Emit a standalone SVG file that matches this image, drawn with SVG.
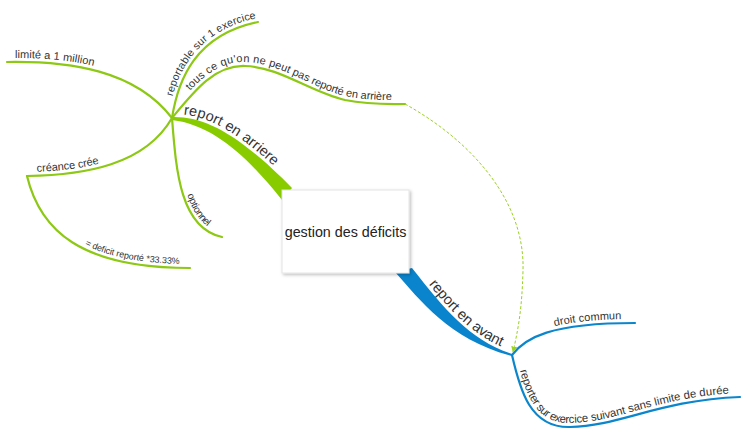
<svg xmlns="http://www.w3.org/2000/svg" xmlns:xlink="http://www.w3.org/1999/xlink" width="750" height="437" viewBox="0 0 750 437">
<style>
  .g { fill: none; stroke: #8cc814; stroke-width: 2.2; stroke-linecap: round; }
  .b { fill: none; stroke: #0b86cc; stroke-width: 2.2; stroke-linecap: round; }
  .t { font-family: "Liberation Sans", Arial, sans-serif; fill: #333; font-size: 11px; }
  .big { font-size: 14.5px; }
  .small { font-size: 9px; }
  .opt { font-size: 10px; }
  .rep { font-size: 10.6px; }
  .long { font-size: 11.3px; }
  .center { font-size: 14.3px; fill: #222; }
</style>
<defs>
  <marker id="arr" viewBox="0 0 10 10" refX="9" refY="5" markerWidth="6" markerHeight="6" orient="auto" markerUnits="userSpaceOnUse">
    <path d="M0,0 L10,5 L0,10 Z" fill="#9ad21e"/>
  </marker>
  <filter id="sh" x="-10%" y="-10%" width="130%" height="130%">
    <feDropShadow dx="1.5" dy="1.5" stdDeviation="1.5" flood-color="#000" flood-opacity="0.25"/>
  </filter>
  <path id="pTopG" d="M172,117 C 205,116 240,135 292,188"/>
  <path id="pTopB" d="M412,268 C 445,310 470,340 512,354"/>
  <path id="pLim" d="M7,62 C 70,61 135,70 172,118"/>
  <path id="pRep" d="M172,118 C 178,80 195,35 258,22"/>
  <path id="pRepText" d="M172,118 C 178,80 195,35 258,22 L 280,19"/>
  <path id="pTous" d="M172,118 C 195,90 215,65 245,66 C 280,67 310,92 345,100 C 370,105 390,104 405,104"/>
  <path id="pCre" d="M27,176 C 85,175 145,165 172,118"/>
  <path id="pDef" d="M27,176 C 40,230 80,268 190,268"/>
  <path id="pOpt" d="M172,118 C 176,170 180,228 222,237"/>
  <path id="pDroit" d="M512,355 C 525,338 550,323 635,323"/>
  <path id="pRepA" d="M512,355 C 520,390 530,428 570,427 C 620,426 660,400 740,397"/>
</defs>

<g id="connectors">
  <path id="branch-arriere" d="M172,117 C 205,116 240,135 292,188 L 282,200 C 250,160 215,125 172,120 Z" fill="#88cc00"/>
  <path id="branch-avant" d="M395,272 C 420,300 450,340 512,356 L 512,354 C 470,340 445,310 412,268 Z" fill="#0a84cc"/>
  <use xlink:href="#pLim" class="g"/>
  <use xlink:href="#pRep" class="g"/>
  <use xlink:href="#pTous" class="g"/>
  <use xlink:href="#pCre" class="g"/>
  <use xlink:href="#pDef" class="g"/>
  <use xlink:href="#pOpt" class="g"/>
  <use xlink:href="#pDroit" class="b"/>
  <use xlink:href="#pRepA" class="b"/>
  <path id="relation" d="M405,104 C 470,140 525,200 523,270 C 522,310 518,330 513,352" fill="none" stroke="#9ad21e" stroke-width="1" stroke-dasharray="3,2" marker-end="url(#arr)"/>
</g>

<g id="node-report-arriere">
  <text class="t big" dy="-3"><textPath xlink:href="#pTopG" startOffset="11">report en arriere</textPath></text>
</g>
<g id="node-report-avant">
  <text class="t big" dy="-3"><textPath xlink:href="#pTopB" startOffset="23">report en avant</textPath></text>
</g>
<g id="node-limite">
  <text class="t" dy="-4"><textPath xlink:href="#pLim" startOffset="8">limité a 1 million</textPath></text>
</g>
<g id="node-reportable">
  <text class="t rep" dy="-4"><textPath xlink:href="#pRepText" startOffset="21">reportable sur 1 exercice</textPath></text>
</g>
<g id="node-tous">
  <text class="t" dy="-4"><textPath xlink:href="#pTous" startOffset="32">tous ce qu'on ne peut pas reporté en arrière</textPath></text>
</g>
<g id="node-creance">
  <text class="t" dy="-4"><textPath xlink:href="#pCre" startOffset="10">créance crée</textPath></text>
</g>
<g id="node-deficit">
  <text class="t small" dy="-4"><textPath xlink:href="#pDef" startOffset="95">= deficit reporté *33.33%</textPath></text>
</g>
<g id="node-optionnel">
  <text class="t opt" dy="-4"><textPath xlink:href="#pOpt" startOffset="79">optionnel</textPath></text>
</g>
<g id="node-droit">
  <text class="t" dy="-4"><textPath xlink:href="#pDroit" startOffset="51">droit commun</textPath></text>
</g>
<g id="node-reporter">
  <text class="t long" dy="-4"><textPath xlink:href="#pRepA" startOffset="17">reporter sur exercice suivant sans limite de durée</textPath></text>
</g>

<g id="node-central">
  <rect x="282" y="190" width="127" height="83" fill="#fff" stroke="#e4e4e4" stroke-width="1" filter="url(#sh)"/>
  <text class="t center" x="345.5" y="237" text-anchor="middle">gestion des déficits</text>
</g>
</svg>
